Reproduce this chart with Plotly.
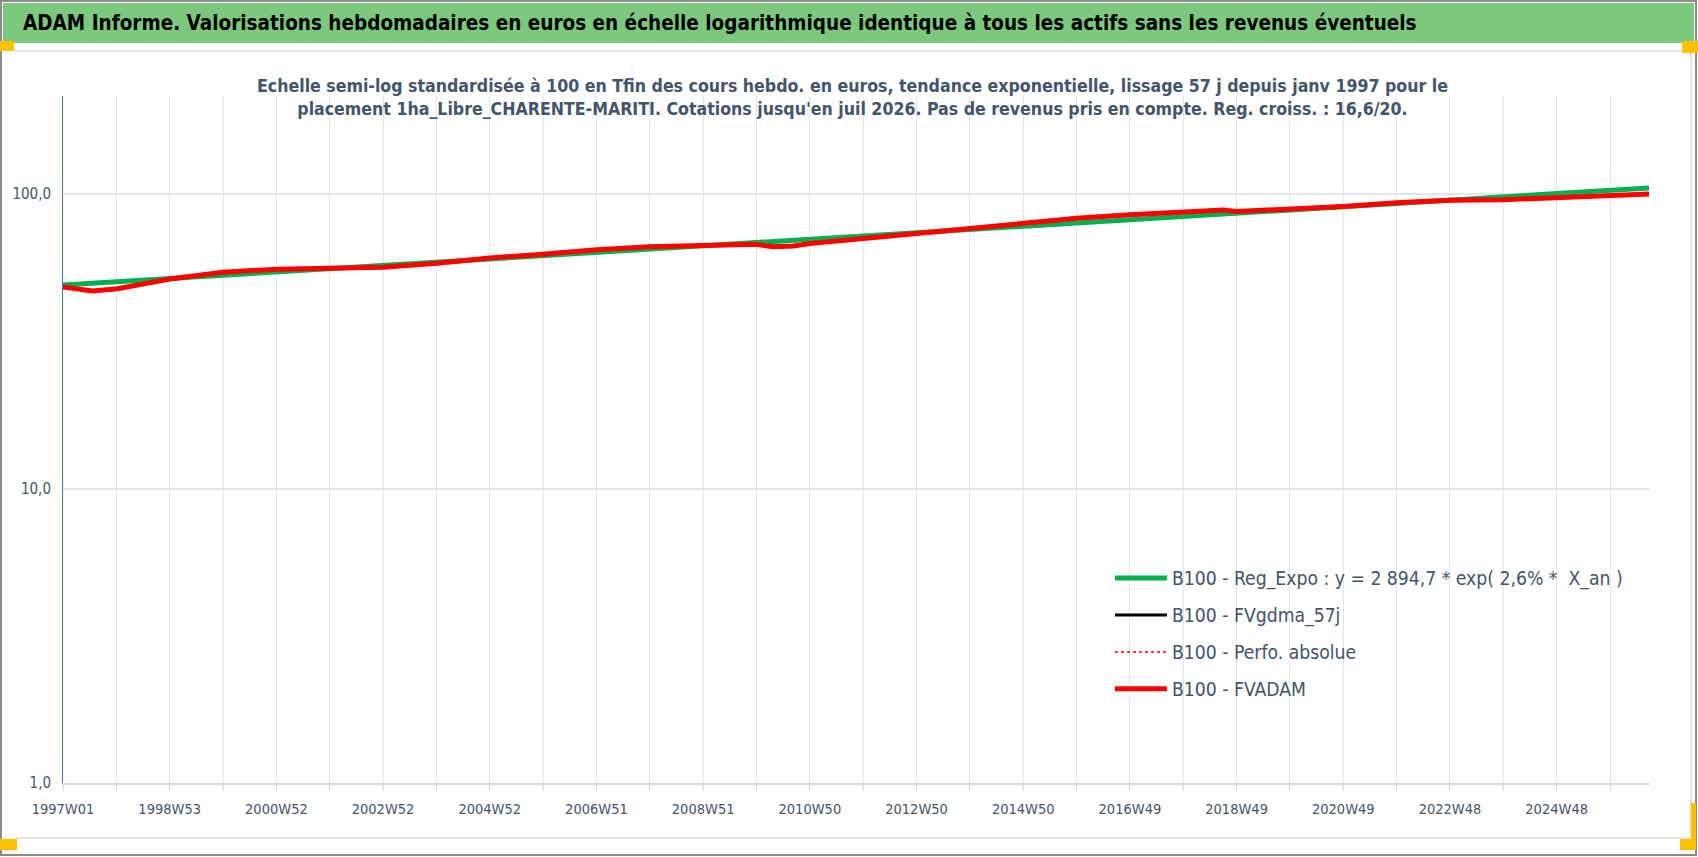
import plotly.graph_objects as go

# semaines depuis 1997W01 (axe categoriel d'Excel, 1 point par semaine)
weeks_fvadam = [0, 29, 53, 104, 156, 209, 260, 312, 365, 416, 468, 520, 572, 624,
                676, 692, 712, 728, 780, 832, 884, 936, 988, 1040, 1092, 1131, 1144,
                1196, 1248, 1300, 1352, 1404, 1449, 1546]
fvadam = [48.4, 46.9, 47.7, 51.5, 54.3, 55.6, 56.0, 56.4, 58.2, 60.6, 62.5, 64.7, 66.2, 67.1,
          67.5, 66.2, 66.6, 67.9, 70.6, 73.4, 76.2, 79.2, 82.7, 85.0, 87.0, 88.3, 87.2,
          88.9, 90.8, 93.4, 95.2, 95.7, 97.3, 100.0]

weeks_reg = [0, 520, 1040, 1546]
reg_expo = [49.1, 63.3, 81.5, 104.9]

tick_labels = ["1997W01", "1998W53", "2000W52", "2002W52", "2004W52", "2006W51", "2008W51",
               "2010W50", "2012W50", "2014W50", "2016W49", "2018W49", "2020W49", "2022W48",
               "2024W48"]
n_weeks = 1546

y_ticks = [1, 10, 100]
y_labels = ["1,0", "10,0", "100,0"]

title = ("ADAM Informe. Valorisations hebdomadaires en euros en échelle logarithmique "
         "identique à tous les actifs sans les revenus éventuels")
subtitle = ("Echelle semi-log standardisée à 100 en Tfin des cours hebdo. en euros, tendance "
            "exponentielle, lissage 57 j depuis janv 1997 pour le<br>placement 1ha_Libre_CHARENTE-MARITI. "
            "Cotations jusqu'en juil 2026. Pas de revenus pris en compte. Reg. croiss. : 16,6/20.")

FONT = "DejaVu Sans Condensed, sans-serif"
TXT = "#44546A"
GRID = "#E1E5EC"

W, H = 1698, 857
L, R, T, B = 63, 49, 96, 74
PW, PH = W - L - R, H - T - B


def px_x(px):
    return (px - L) / PW


def px_y(py):
    return (H - B - py) / PH


def box(x0, y0, x1, y1, **kw):
    return dict(type="rect", xref="paper", yref="paper",
                x0=px_x(x0), x1=px_x(x1), y0=px_y(y0), y1=px_y(y1), **kw)


def hline(x0, x1, y, color):
    return dict(type="line", xref="paper", yref="paper", x0=px_x(x0), x1=px_x(x1),
                y0=px_y(y), y1=px_y(y), line=dict(color=color, width=2))


fig = go.Figure()
fig.add_trace(go.Scatter(
    x=weeks_reg, y=reg_expo, mode="lines",
    line=dict(color="#00B050", width=5),
    name="B100 - Reg_Expo : y = 2 894,7 * exp( 2,6% *  X_an )",
    legendgroup="a"
))
fig.add_trace(go.Scatter(
    x=[None], y=[None], mode="lines",
    line=dict(color="#000000", width=3),
    name="B100 - FVgdma_57j",
    legendgroup="b"
))
fig.add_trace(go.Scatter(
    x=[None], y=[None], mode="lines",
    line=dict(color="#FF0000", width=1.5, dash="dot"),
    name="B100 - Perfo. absolue",
    legendgroup="c"
))
fig.add_trace(go.Scatter(
    x=weeks_fvadam, y=fvadam, mode="lines",
    line=dict(color="#FF0000", width=5),
    name="B100 - FVADAM",
    legendgroup="d"
))

# cadre, bandeau vert et poignees de selection
ORANGE = "#FFC000"
shapes = [
    box(1, 1, 1696, 855, line=dict(color="#8C8C8C", width=2), layer="below"),
    box(3, 3, 1694, 43, line=dict(width=0), fillcolor="#7DC87F", layer="below"),
    hline(14, 1690, 51, "#E3E3E3"),
    dict(type="line", xref="paper", yref="paper", x0=px_x(1691), x1=px_x(1691),
         y0=px_y(51), y1=px_y(838), line=dict(color="#E3E3E3", width=2)),
    hline(16, 1690, 838, "#E3E3E3"),
    box(0, 41, 14, 51, line=dict(width=0), fillcolor=ORANGE),
    box(1682, 41, 1698, 53, line=dict(width=0), fillcolor=ORANGE),
    box(0, 839, 17, 850, line=dict(width=0), fillcolor=ORANGE),
    box(1680, 839, 1696, 850, line=dict(width=0), fillcolor=ORANGE),
    box(1691, 803, 1696, 850, line=dict(width=0), fillcolor=ORANGE),
]

annotations = [
    dict(xref="paper", yref="paper", x=px_x(21), y=px_y(23), xanchor="left", yanchor="middle",
         text=title, showarrow=False,
         font=dict(family=FONT, size=20.5, color="#000000", weight="bold")),
    dict(xref="paper", yref="paper", x=px_x(852), y=px_y(98), xanchor="center", yanchor="middle",
         text=subtitle, showarrow=False, align="center",
         font=dict(family=FONT, size=17.6, color=TXT, weight="bold")),
]

fig.update_layout(
    width=W, height=H,
    margin=dict(l=L, r=R, t=T, b=B),
    paper_bgcolor="white",
    plot_bgcolor="white",
    shapes=shapes,
    annotations=annotations,
    font=dict(family=FONT, color=TXT),
    legend=dict(
        x=px_x(1110), y=px_y(559), xanchor="left", yanchor="top",
        font=dict(family=FONT, size=19.2, color=TXT),
        bgcolor="rgba(0,0,0,0)",
        itemwidth=52,
        traceorder="grouped",
        tracegroupgap=9
    ),
)
fig.update_xaxes(
    range=[0, n_weeks],
    tickmode="array",
    tickvals=[52 * i for i in range(30)],
    ticktext=[tick_labels[i // 2] if i % 2 == 0 else "" for i in range(30)],
    showgrid=True, gridcolor=GRID, gridwidth=1,
    showline=True, linecolor="#D9D9D9", linewidth=2,
    ticks="outside", ticklen=6, tickcolor="#D9D9D9", tickwidth=1,
    tickfont=dict(family=FONT, size=14.5, color=TXT),
    ticklabelstandoff=6,
    zeroline=False,
)
fig.update_yaxes(
    type="log",
    range=[0, 2.333],
    tickmode="array",
    tickvals=y_ticks,
    ticktext=y_labels,
    showgrid=True, gridcolor=GRID, gridwidth=1.5,
    showline=True, linecolor="#4472C4", linewidth=1,
    ticks="",
    tickfont=dict(family=FONT, size=15, color=TXT),
    ticklabelstandoff=8,
    zeroline=False,
)

fig.write_html("out.html", config={"displayModeBar": False},
               post_script="document.body.style.margin='0';")
